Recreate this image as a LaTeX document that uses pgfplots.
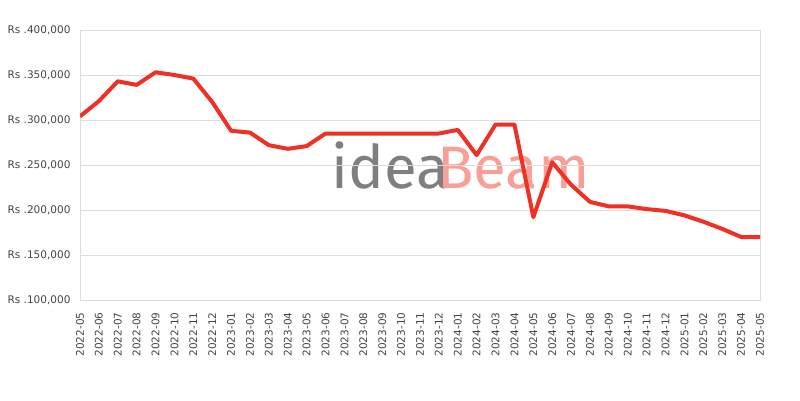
\documentclass[border=0pt]{standalone}
\usepackage{fontspec}
\setmainfont{DejaVu Sans}
\newfontfamily\wmfont{Fira Sans}
\usepackage{pgfplots}
\pgfplotsset{compat=1.18}
\definecolor{lineRed}{HTML}{EE3124}
\definecolor{gridGray}{HTML}{DDDDDD}
\definecolor{txtGray}{HTML}{444444}
\definecolor{wmGray}{HTML}{7F7F7F}
\definecolor{wmPink}{HTML}{F8A097}

\pgfplotstableread{
i price
0 304000
1 321000
2 343000
3 339000
4 353000
5 350000
6 346000
7 320000
8 288000
9 286000
10 272000
11 268000
12 271000
13 285000
14 285000
15 285000
16 285000
17 285000
18 285000
19 285000
20 289000
21 261000
22 295000
23 295000
24 192000
25 253000
26 228000
27 209000
28 204000
29 204000
30 201000
31 199000
32 194000
33 187000
34 179000
35 170000
36 170000
}\prices

\begin{document}
\begin{tikzpicture}[x=1pt,y=1pt]
% watermark
\node[anchor=base west,inner sep=0pt,font=\wmfont\fontsize{60}{60}\selectfont,text=wmGray] at (331,212) {idea};
\node[anchor=base west,inner sep=0pt,font=\wmfont\fontsize{60}{60}\selectfont,text=wmPink] at (437,212) {Beam};
\begin{axis}[
  at={(80pt,100pt)}, anchor=south west,
  scale only axis, width=680pt, height=270pt,
  xmin=0, xmax=36, ymin=100000, ymax=400000,
  scaled y ticks=false,
  xtick={0,...,36},
  xticklabels={2022-05,2022-06,2022-07,2022-08,2022-09,2022-10,2022-11,2022-12,
    2023-01,2023-02,2023-03,2023-04,2023-05,2023-06,2023-07,2023-08,2023-09,2023-10,2023-11,2023-12,
    2024-01,2024-02,2024-03,2024-04,2024-05,2024-06,2024-07,2024-08,2024-09,2024-10,2024-11,2024-12,
    2025-01,2025-02,2025-03,2025-04,2025-05},
  xticklabel style={rotate=90, anchor=east, xshift=-9pt, font=\fontsize{10.5}{10.5}\selectfont, text=txtGray},
  ytick={100000,150000,200000,250000,300000,350000,400000},
  yticklabels={Rs .100{,}000,Rs .150{,}000,Rs .200{,}000,Rs .250{,}000,Rs .300{,}000,Rs .350{,}000,Rs .400{,}000},
  yticklabel style={xshift=-6pt, font=\fontsize{10.5}{10.5}\selectfont, text=txtGray},
  major tick length=0pt,
  ymajorgrids, grid style={gridGray, line width=0.8pt},
  axis line style={gridGray, line width=0.8pt},
  every tick/.style={draw=none},
]
\addplot[lineRed, line width=4pt, line join=round] table[x=i, y=price] {\prices};
\end{axis}
\pgfresetboundingbox
\path (0,0) rectangle (800,400);
\end{tikzpicture}
\end{document}
